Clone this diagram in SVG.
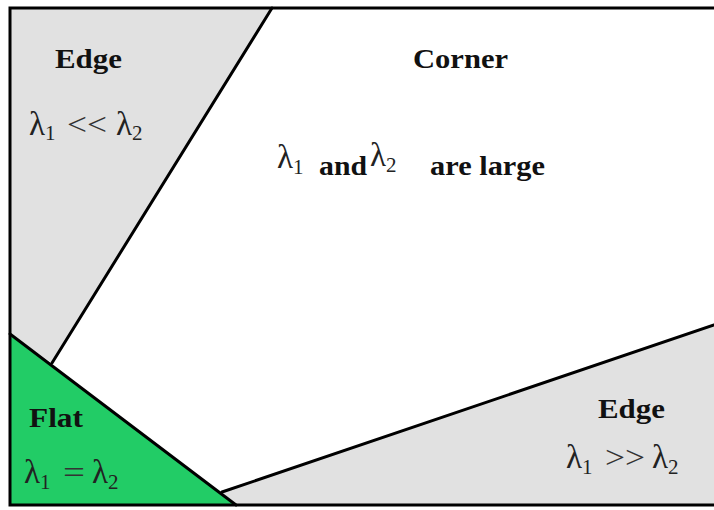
<svg xmlns="http://www.w3.org/2000/svg" width="714" height="510" viewBox="0 0 714 510">
<style>
.lbl{font-family:"Liberation Serif",serif;font-weight:bold;font-size:27px;fill:#111}
.lam{font-family:"Liberation Serif",serif;font-size:33px;fill:#222}
.sub{font-size:21px}
.rel{font-family:"Liberation Serif",serif;font-size:31px;fill:#333}
.ln{stroke:#000;stroke-width:3;fill:none;stroke-linecap:round}
</style>
<rect x="0" y="0" width="714" height="510" fill="#fff"/>
<g id="edge-left">
<polygon points="10,8 272,8 52,363 10,334" fill="#e1e1e1"/>
<text class="lbl" x="55" y="68" textLength="67" lengthAdjust="spacingAndGlyphs">Edge</text>
<text class="lam" x="29" y="135">λ<tspan class="sub" dy="5">1</tspan></text>
<text class="rel" x="67" y="135" textLength="40" lengthAdjust="spacingAndGlyphs">&lt;&lt;</text>
<text class="lam" x="116" y="135">λ<tspan class="sub" dy="5">2</tspan></text>
</g>
<g id="corner">
<text class="lbl" x="413" y="68" textLength="95" lengthAdjust="spacingAndGlyphs">Corner</text>
<text class="lam" x="277" y="168">λ<tspan class="sub" dy="6">1</tspan></text>
<text class="lbl" x="319" y="175" textLength="48" lengthAdjust="spacingAndGlyphs">and</text>
<text class="lam" x="370" y="166">λ<tspan class="sub" dy="6">2</tspan></text>
<text class="lbl" x="430" y="175" textLength="115" lengthAdjust="spacingAndGlyphs">are large</text>
</g>
<g id="flat">
<polygon points="10,334 236,505 10,505" fill="#22cc66"/>
<text class="lbl" x="29" y="427" textLength="54" lengthAdjust="spacingAndGlyphs">Flat</text>
<text class="lam" x="24" y="483">λ<tspan class="sub" dy="6">1</tspan></text>
<text class="rel" x="63" y="483" textLength="22" lengthAdjust="spacingAndGlyphs">=</text>
<text class="lam" x="92" y="483">λ<tspan class="sub" dy="6">2</tspan></text>
</g>
<g id="edge-right">
<polygon points="222,492 714,325 714,505 236,505" fill="#e1e1e1"/>
<text class="lbl" x="598" y="418" textLength="67" lengthAdjust="spacingAndGlyphs">Edge</text>
<text class="lam" x="566" y="468">λ<tspan class="sub" dy="6">1</tspan></text>
<text class="rel" x="605" y="468" textLength="40" lengthAdjust="spacingAndGlyphs">&gt;&gt;</text>
<text class="lam" x="652" y="468">λ<tspan class="sub" dy="6">2</tspan></text>
</g>
<g id="connectors">
<line class="ln" x1="272" y1="8" x2="52" y2="363"/>
<line class="ln" x1="10" y1="334" x2="236" y2="505"/>
<line class="ln" x1="222" y1="492" x2="714" y2="325"/>
<polyline class="ln" points="714,8 10,8 10,505 714,505" stroke-linecap="square"/>
</g>
</svg>
